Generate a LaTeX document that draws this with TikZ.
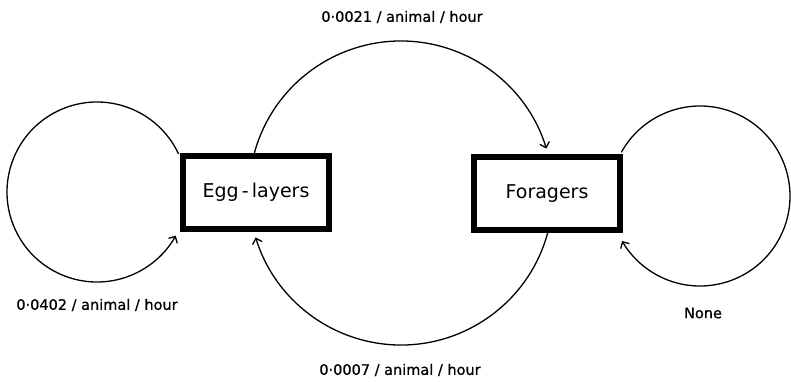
\documentclass[tikz,border=0pt]{standalone}
\usepackage{fontspec}
\setmainfont{DejaVu Sans}
\newfontfamily\ratefont[FakeBold=0.8]{DejaVu Sans}
\usetikzlibrary{arrows.meta}
\begin{document}
\begin{tikzpicture}[x=1pt,y=1pt,
  stage/.style={draw, line width=6pt, minimum width=146pt, minimum height=73pt,
    inner sep=0pt, font=\fontsize{19}{21}\selectfont},
  flow/.style={line width=1.3pt, -{Straight Barb[length=5pt,width=10pt,line width=1.3pt]}},
  rate/.style={font=\ratefont\fontsize{14.5}{16}\selectfont, inner sep=0pt}]
\useasboundingbox (0,0) rectangle (791,381);

% the two castes
\node[stage] (egg) at (256,189) {Egg\,-\,layers};
\node[stage] (for) at (547,187.5) {Foragers};

% centres of the transition loops
\coordinate (mid) at (401,188);
\coordinate (lc)  at (97,189);
\coordinate (rc)  at (700,185);

% egg-layers -> foragers (over the top)
\draw[flow] ([shift={(164.7:152)}]mid) arc[start angle=164.7, end angle=17, radius=152];
% foragers -> egg-layers (underneath)
\draw[flow] ([shift={(-15:152)}]mid) arc[start angle=-15, end angle=-163, radius=152];
% egg-layers staying egg-layers
\draw[flow] ([shift={(25:90)}]lc) arc[start angle=25, end angle=331, radius=90];
% foragers staying foragers
\draw[flow] ([shift={(151:90)}]rc) arc[start angle=151, end angle=-150, radius=90];

% rates
\node[rate] (r1) at (402,364) {0·0021 / animal / hour};
\node[rate] (r2) at (400,11) {0·0007 / animal / hour};
\node[rate] (r3) at (97,76) {0·0402 / animal / hour};
\node[rate] (r4) at (703,68) {None};
\end{tikzpicture}
\end{document}
